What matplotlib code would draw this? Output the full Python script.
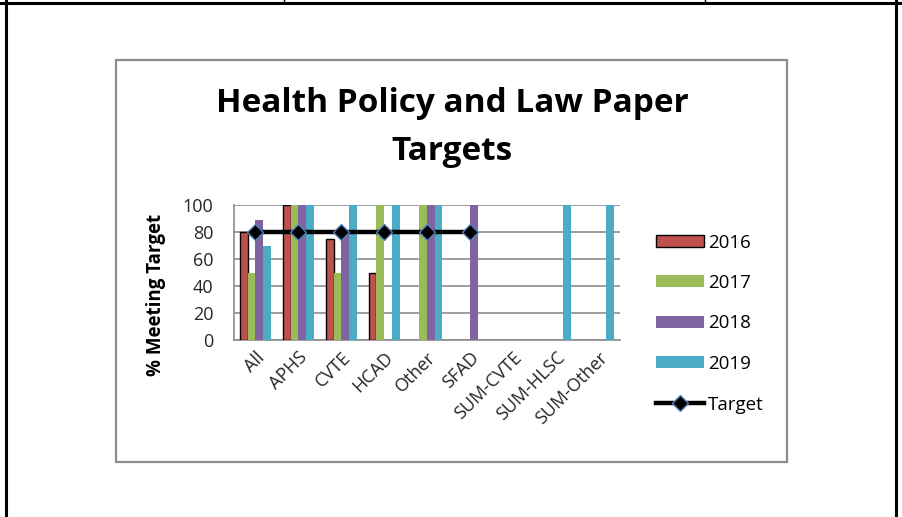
import matplotlib
matplotlib.use("Agg")
import matplotlib.pyplot as plt
import numpy as np
from matplotlib.patches import Rectangle
from matplotlib.lines import Line2D

nan = float("nan")
categories = ["All", "APHS", "CVTE", "HCAD", "Other", "SFAD", "SUM-CVTE", "SUM-HLSC", "SUM-Other"]
v2016 = [80, 100, 75, 50, nan, nan, nan, nan, nan]
v2017 = [50, 100, 50, 100, 100, nan, nan, nan, nan]
v2018 = [89, 100, 80, nan, 100, 100, nan, nan, nan]
v2019 = [70, 100, 100, 100, 100, nan, nan, 100, 100]
target = [80, 80, 80, 80, 80, 80]
series_names = ["2016", "2017", "2018", "2019"]
colors = ["#C0504D", "#9BBB59", "#8064A2", "#4BACC6"]
yticks = [0, 20, 40, 60, 80, 100]

plt.rcParams['font.family'] = ['Open Sans', 'DejaVu Sans']

W, H = 902, 517
fig = plt.figure(figsize=(W / 100, H / 100), dpi=100)

def fx(x):
    return x / W

def fy(y):
    return 1 - y / H

# outer table-cell borders
fig.add_artist(Line2D([0, 1], [fy(3), fy(3)], color="black", lw=2.2))
fig.add_artist(Line2D([fx(6), fx(6)], [fy(0), fy(517)], color="black", lw=2.2))
fig.add_artist(Line2D([fx(896), fx(896)], [fy(0), fy(517)], color="black", lw=2.2))
fig.add_artist(Line2D([fx(284), fx(284)], [fy(0), fy(3)], color="black", lw=1))
fig.add_artist(Line2D([fx(705), fx(705)], [fy(0), fy(3)], color="black", lw=1))

# chart area box
fig.add_artist(Rectangle((fx(116), fy(462)), fx(787) - fx(116), fy(60) - fy(462),
                         fill=False, edgecolor="#8c8c8c", lw=1.6))

ax = fig.add_axes([fx(234), fy(340), fx(620) - fx(234), fy(205) - fy(340)])
x = np.arange(len(categories))
bw = 0.18
series = [v2016, v2017, v2018, v2019]
handles = []
for i, (vals, c) in enumerate(zip(series, colors)):
    off = (i - 1.5) * bw
    ec = "black" if i == 0 else c
    lw = 1.0 if i == 0 else 0
    b = ax.bar(x + off, vals, width=bw, color=c, edgecolor=ec, linewidth=lw, zorder=3,
               label=series_names[i])
    handles.append(b)

tl, = ax.plot(np.arange(len(target)), target, color="black", lw=3.2, marker="D",
              markersize=8, markerfacecolor="black", markeredgecolor="#4F81BD",
              markeredgewidth=1.0, zorder=5, label="Target")
handles.append(tl)

ax.set_xlim(-0.5, len(categories) - 0.5)
ax.set_ylim(0, 100)
ax.set_yticks(yticks)
ax.yaxis.grid(True, color="#8c8c8c", lw=1.2, zorder=0)
ax.set_axisbelow(True)
for s in ["top", "right"]:
    ax.spines[s].set_visible(False)
ax.spines["left"].set_color("#8c8c8c")
ax.spines["bottom"].set_color("#8c8c8c")
ax.spines["left"].set_linewidth(1.2)
ax.spines["bottom"].set_linewidth(1.2)
ax.tick_params(axis="both", length=0, labelsize=13, colors="#262626")
ax.tick_params(axis="y", pad=15)
ax.set_xticks(x)
ax.set_xticklabels(categories, rotation=45, ha="right", rotation_mode="anchor")
ax.tick_params(axis="x", pad=6)

fig.text(fx(156), fy(295), "% Meeting Target", rotation=90, ha="center", va="center",
         fontsize=13.5, fontweight="bold", color="black")

fig.text(fx(452), fy(103), "Health Policy and Law Paper", ha="center", va="center",
         fontsize=24, fontweight="bold", color="black")
fig.text(fx(452), fy(152), "Targets", ha="center", va="center",
         fontsize=24, fontweight="bold", color="black")

leg = fig.legend(handles=handles, labels=series_names + ["Target"], loc="upper left",
                 bbox_to_anchor=(fx(648), fy(226)), frameon=False, fontsize=13.5,
                 handlelength=2.6, handleheight=0.6, labelspacing=1.2, handletextpad=0.2,
                 borderaxespad=0)

fig.savefig("out.png", dpi=100)
